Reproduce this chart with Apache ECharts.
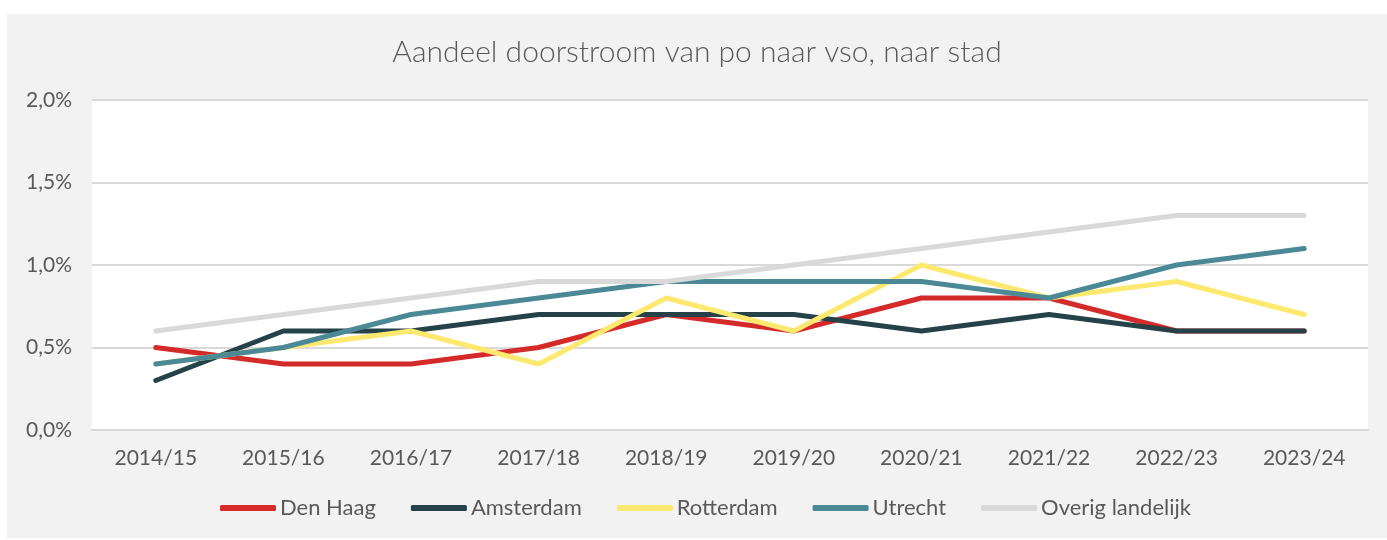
<!DOCTYPE html>
<html>
<head>
<meta charset="utf-8">
<script src="https://cdn.jsdelivr.net/npm/echarts@6/dist/echarts.min.js"></script>
<style>
  html, body { margin: 0; padding: 0; background: #fff; }
  #main { position: absolute; left: 7px; top: 14px; width: 1380px; height: 524px; background: #f2f2f2; }
</style>
</head>
<body>
<div id="main"></div>
<script>
var jaren = ['2014/15', '2015/16', '2016/17', '2017/18', '2018/19', '2019/20', '2020/21', '2021/22', '2022/23', '2023/24'];
var denHaag   = [0.5, 0.4, 0.4, 0.5, 0.7, 0.6, 0.8, 0.8, 0.6, 0.6];
var amsterdam = [0.3, 0.6, 0.6, 0.7, 0.7, 0.7, 0.6, 0.7, 0.6, 0.6];
var rotterdam = [0.4, 0.5, 0.6, 0.4, 0.8, 0.6, 1.0, 0.8, 0.9, 0.7];
var utrecht   = [0.4, 0.5, 0.7, 0.8, 0.9, 0.9, 0.9, 0.8, 1.0, 1.1];
var overig    = [0.6, 0.7, 0.8, 0.9, 0.9, 1.0, 1.1, 1.2, 1.3, 1.3];

var fontFam = 'Lato, "Noto Sans", sans-serif';
var tekst = '#595959';

function lijn(naam, data, kleur) {
  return {
    name: naam,
    type: 'line',
    data: data,
    showSymbol: false,
    symbol: 'none',
    lineStyle: { color: kleur, width: 5, cap: 'round', join: 'round' },
    itemStyle: { color: kleur },
    emphasis: { disabled: true },
    animation: false
  };
}

var myChart = echarts.init(document.getElementById('main'));
var option = {
  backgroundColor: '#f2f2f2',
  title: {
    text: 'Aandeel doorstroom van po naar vso, naar stad',
    left: 'center',
    top: 18,
    textStyle: { fontFamily: fontFam, fontSize: 30, fontWeight: 300, color: tekst }
  },
  grid: {
    left: 85, right: 19, top: 86, bottom: 108,
    show: true, backgroundColor: '#fff', borderWidth: 0
  },
  legend: {
    top: 478,
    left: 208,
    icon: 'roundRect',
    itemWidth: 56,
    itemHeight: 6,
    itemGap: 35,
    textStyle: { fontFamily: fontFam, fontSize: 22, color: tekst, padding: [0, 0, 0, -1] },
    data: ['Den Haag', 'Amsterdam', 'Rotterdam', 'Utrecht', 'Overig landelijk']
  },
  xAxis: {
    type: 'category',
    data: jaren,
    boundaryGap: true,
    axisLine: { lineStyle: { color: '#d9d9d9', width: 2 } },
    axisTick: { show: false },
    axisLabel: { fontFamily: fontFam, fontSize: 21, color: tekst, margin: 18 }
  },
  yAxis: {
    type: 'value',
    min: 0, max: 2, interval: 0.5,
    axisLine: { show: false },
    axisTick: { show: false },
    splitLine: { lineStyle: { color: '#d9d9d9', width: 2 } },
    axisLabel: {
      fontFamily: fontFam, fontSize: 21, color: tekst, margin: 20,
      formatter: function (v) { return v.toFixed(1).replace('.', ',') + '%'; }
    }
  },
  series: [
    lijn('Den Haag', denHaag, '#d42a2a'),
    lijn('Amsterdam', amsterdam, '#254249'),
    lijn('Rotterdam', rotterdam, '#fde970'),
    lijn('Utrecht', utrecht, '#4a8995'),
    lijn('Overig landelijk', overig, '#d9d9d9')
  ]
};
myChart.setOption(option);
</script>
</body>
</html>
